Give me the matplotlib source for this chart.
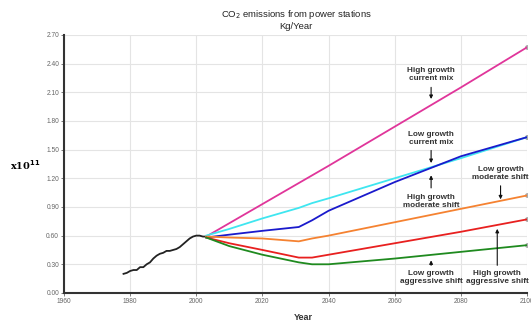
import numpy as np
import matplotlib.pyplot as plt

plt.rcParams['font.family'] = ['Liberation Sans', 'DejaVu Sans']

# historical emissions (x10^11 kg/year)
hist_years = [1978, 1979, 1980, 1981, 1982, 1983, 1984, 1985, 1986, 1987, 1988,
              1989, 1990, 1991, 1992, 1993, 1994, 1995, 1996, 1997, 1998, 1999,
              2000, 2001, 2002, 2003]
hist_vals = [0.20, 0.21, 0.23, 0.24, 0.24, 0.27, 0.27, 0.30, 0.32, 0.36, 0.39,
             0.41, 0.42, 0.44, 0.44, 0.45, 0.46, 0.48, 0.51, 0.54, 0.57, 0.59,
             0.60, 0.60, 0.59, 0.59]

# scenarios
sc_years = [2003, 2010, 2020, 2031, 2035, 2040, 2060, 2080, 2100]
high_current = [0.59, 0.73, 0.93, 1.15, 1.23, 1.33, 1.74, 2.15, 2.57]
low_current = [0.60, 0.67, 0.78, 0.89, 0.94, 0.99, 1.20, 1.41, 1.63]
high_moderate = [0.58, 0.61, 0.65, 0.69, 0.76, 0.86, 1.16, 1.43, 1.63]
low_moderate = [0.59, 0.58, 0.57, 0.54, 0.57, 0.60, 0.74, 0.88, 1.02]
high_aggressive = [0.58, 0.52, 0.45, 0.37, 0.37, 0.40, 0.52, 0.64, 0.77]
low_aggressive = [0.58, 0.49, 0.40, 0.32, 0.30, 0.30, 0.36, 0.43, 0.50]

series = [
    (high_current, '#e0359a'),
    (low_current, '#3fe6f0'),
    (high_moderate, '#1a1acc'),
    (low_moderate, '#f58231'),
    (high_aggressive, '#e8201f'),
    (low_aggressive, '#1f8a1f'),
]

# label text, text position (year, value), arrow start value, arrow tip value
labels = [
    ('High growth\ncurrent mix', (2071, 2.29), 2.18, 2.00),
    ('Low growth\ncurrent mix', (2071, 1.62), 1.52, 1.33),
    ('High growth\nmoderate shift', (2071, 0.96), 1.07, 1.26),
    ('Low growth\nmoderate shift', (2092, 1.25), 1.15, 0.95),
    ('Low growth\naggressive shift', (2071, 0.16), 0.26, 0.37),
    ('High growth\naggressive shift', (2091, 0.16), 0.26, 0.70),
]

fig = plt.figure(figsize=(5.31, 3.23), dpi=100)
ax = fig.add_axes([0.1205, 0.093, 0.872, 0.799])

ax.plot(hist_years, hist_vals, color='#222222', lw=1.3)
for vals, col in series:
    ax.plot(sc_years, vals, color=col, lw=1.3)
    ax.plot(sc_years[-1], vals[-1], 'o', ms=2.5, color='#aaaaaa', zorder=1)

for text, (tx, ty), start, tip in labels:
    ax.text(tx, ty, text, ha='center', va='center', fontsize=5.9,
            fontweight='bold', color='#333333', linespacing=1.2)
    ax.annotate('', xy=(tx, tip), xytext=(tx, start),
                arrowprops=dict(arrowstyle='-|>', color='#111111', lw=0.8,
                                mutation_scale=5))

ax.set_xlim(1960, 2100)
ax.set_ylim(0, 2.70)
ax.set_xticks(np.arange(1960, 2101, 20))
ax.set_yticks(np.arange(0, 2.71, 0.30))
ax.set_yticklabels(['%.2f' % v for v in np.arange(0, 2.71, 0.30)])
ax.grid(True, color='#e4e4e4', lw=0.8)
ax.set_axisbelow(True)
ax.tick_params(labelsize=4.8, colors='#666666', length=2, width=0.6, pad=1.5)

for s in ['top', 'right']:
    ax.spines[s].set_visible(False)
for s in ['left', 'bottom']:
    ax.spines[s].set_linewidth(1.5)
    ax.spines[s].set_color('#333333')

fig.text(0.571, 0.016, 'Year', fontsize=6.5, fontweight='bold', color='#333333',
         ha='center', va='center')
fig.text(0.048, 0.49, r'x10$^{\mathbf{11}}$', fontsize=7, fontweight='bold',
         family='DejaVu Serif', ha='center', va='center')
fig.text(0.558, 0.94, r'CO$_2$ emissions from power stations' + '\nKg/Year',
         ha='center', va='center', fontsize=6.8, color='#222222', linespacing=1.1)

fig.savefig('out.png', dpi=100)
